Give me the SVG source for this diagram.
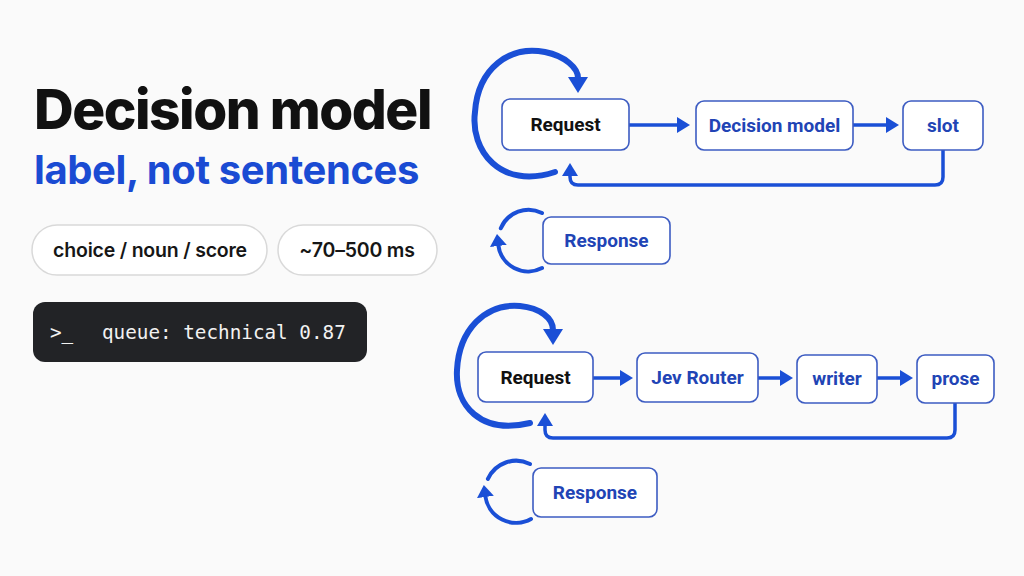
<svg xmlns="http://www.w3.org/2000/svg" width="1024" height="576" viewBox="0 0 1024 576">
<defs>
<marker id="ah" markerUnits="userSpaceOnUse" markerWidth="15" markerHeight="18" refX="1" refY="8" orient="auto">
<path d="M0,0 L13,8 L0,16 z" fill="#1a4fd6"/>
</marker>
<marker id="ahl" markerUnits="userSpaceOnUse" markerWidth="18" markerHeight="22" refX="1" refY="10" orient="auto">
<path d="M0,0 L16,10 L0,20 z" fill="#1a4fd6"/>
</marker>
<marker id="ahs" markerUnits="userSpaceOnUse" markerWidth="14" markerHeight="18" refX="1" refY="8.5" orient="auto">
<path d="M0,0 L12,8.5 L0,17 z" fill="#1a4fd6"/>
</marker>
<style>
.bg{fill:#fafafa}
.title{font-family:Inter,"Liberation Sans",sans-serif;font-weight:800;font-size:55px;letter-spacing:-1.5px;fill:#111}
.sub{font-family:Inter,"Liberation Sans",sans-serif;font-weight:700;font-size:40px;letter-spacing:-0.4px;fill:#1a4bd3}
.pill{fill:#fff;stroke:#d9d9d9;stroke-width:1.5}
.pilltxt{font-family:Inter,"Liberation Sans",sans-serif;font-weight:600;font-size:19.5px;letter-spacing:-0.2px;fill:#161616;text-anchor:middle}
.term{fill:#222326}
.mono{font-family:"DejaVu Sans Mono","Liberation Mono",monospace;font-size:19.3px;fill:#f2f2f2}
.box{fill:#fff;stroke:#3d5cc2;stroke-width:1.6}
.ntxt{font-family:Roboto,Inter,"Liberation Sans",sans-serif;font-weight:700;font-size:19px;fill:#2144b5;text-anchor:middle}
.ntxt.dark{fill:#111}
.edge{fill:none;stroke:#1a4fd6;stroke-width:3.5;stroke-linecap:butt;stroke-linejoin:round}
.loop{fill:none;stroke:#1a4fd6;stroke-width:6;stroke-linecap:round}
.sloop{fill:none;stroke:#1a4fd6;stroke-width:4;stroke-linecap:round}
</style>
</defs>
<rect class="bg" x="0" y="0" width="1024" height="576"/>

<g id="title">
<text class="title" x="34" y="129">Decision model</text>
<text class="sub" x="34" y="184">label, not sentences</text>
</g>
<g id="pill-choice">
<rect class="pill" x="32" y="225" width="235" height="50" rx="25"/>
<text class="pilltxt" x="150" y="257">choice / noun / score</text>
</g>
<g id="pill-latency">
<rect class="pill" x="278" y="225" width="159" height="50" rx="25"/>
<text class="pilltxt" x="357" y="257">~70–500 ms</text>
</g>
<g id="terminal">
<rect class="term" x="33" y="302" width="334" height="60" rx="12"/>
<text class="mono" x="50" y="339">&gt;_</text>
<text class="mono" x="102" y="339">queue: technical 0.87</text>
</g>

<g id="connectors">
<!-- top flow -->
<path class="loop" d="M555,172 C500,190 470,150 475,112 C478,68 510,45 545,52 C565,56 578,68 578,78" marker-end="url(#ahl)"/>
<path class="edge" d="M629,125 H678" marker-end="url(#ah)"/>
<path class="edge" d="M853,125 H887" marker-end="url(#ah)"/>
<path class="edge" d="M943,150 V177 Q943,185 935,185 H578 Q570,185 570,177 V175" marker-end="url(#ah)"/>
<path class="sloop" d="M542,268 A30,30 0 0 1 498.3,245" marker-end="url(#ahs)"/>
<path class="sloop" d="M500.8,228.3 A30,30 0 0 1 542,213"/>
<!-- bottom flow -->
<path class="loop" d="M530,423 C480,435 455,405 457,370 C459,330 485,303 520,306 C540,308 553,318 553,330" marker-end="url(#ahl)"/>
<path class="edge" d="M593,378 H621" marker-end="url(#ah)"/>
<path class="edge" d="M758,378 H781" marker-end="url(#ah)"/>
<path class="edge" d="M877,378 H901" marker-end="url(#ah)"/>
<path class="edge" d="M955,403 V430 Q955,438 947,438 H553 Q545,438 545,430 V425" marker-end="url(#ah)"/>
<path class="sloop" d="M531,519 A31,31 0 0 1 485.3,496" marker-end="url(#ahs)"/>
<path class="sloop" d="M487.9,478.9 A31,31 0 0 1 530,464"/>
</g>

<g id="n-request-1">
<rect class="box" x="502" y="99" width="127" height="51" rx="8"/>
<text class="ntxt dark" x="565.5" y="131">Request</text>
</g>
<g id="n-decision-model">
<rect class="box" x="696" y="101" width="157" height="49" rx="8"/>
<text class="ntxt" x="774.5" y="132">Decision model</text>
</g>
<g id="n-slot">
<rect class="box" x="903" y="101" width="80" height="49" rx="8"/>
<text class="ntxt" x="943" y="132">slot</text>
</g>
<g id="n-response-1">
<rect class="box" x="543" y="217" width="127" height="47" rx="8"/>
<text class="ntxt" x="606.5" y="247">Response</text>
</g>

<g id="n-request-2">
<rect class="box" x="478" y="352" width="115" height="50" rx="8"/>
<text class="ntxt dark" x="535.5" y="384">Request</text>
</g>
<g id="n-jev-router">
<rect class="box" x="637" y="353" width="121" height="49" rx="8"/>
<text class="ntxt" x="697.5" y="384">Jev Router</text>
</g>
<g id="n-writer">
<rect class="box" x="797" y="355" width="80" height="48" rx="8"/>
<text class="ntxt" x="837" y="385">writer</text>
</g>
<g id="n-prose">
<rect class="box" x="917" y="355" width="77" height="48" rx="8"/>
<text class="ntxt" x="955.5" y="385">prose</text>
</g>
<g id="n-response-2">
<rect class="box" x="533" y="468" width="124" height="49" rx="8"/>
<text class="ntxt" x="595" y="499">Response</text>
</g>
</svg>
